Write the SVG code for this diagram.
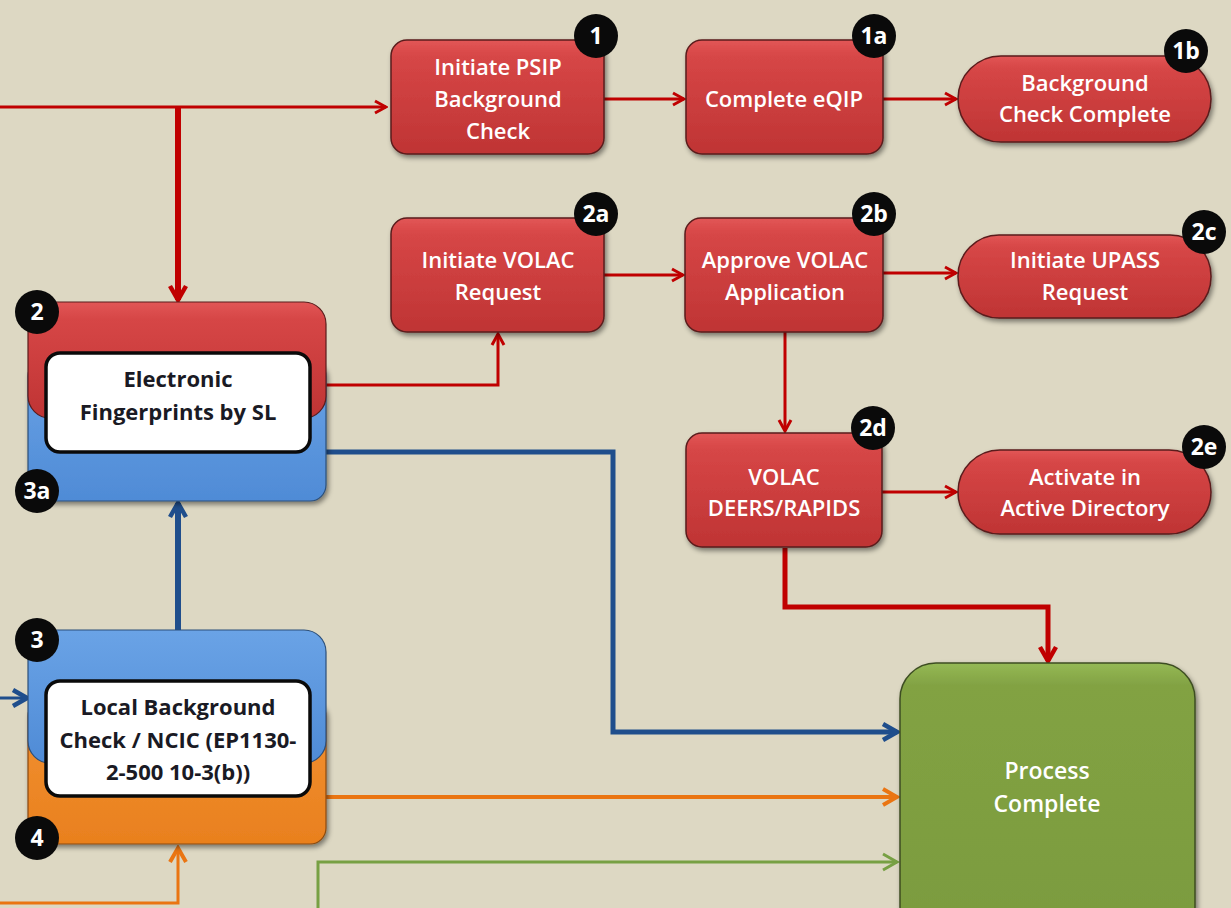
<svg xmlns="http://www.w3.org/2000/svg" width="1231" height="908" viewBox="0 0 1231 908">
<defs>
<style>
.t{font-family:"Open Sans","Liberation Sans",sans-serif;font-size:22px;text-anchor:middle;}
.w{fill:#ffffff;font-weight:600;}
.d{fill:#1a1a24;font-weight:bold;font-size:22px;}
.pc{font-size:23px;font-weight:600;}
.bt{font-family:"Open Sans","Liberation Sans",sans-serif;font-size:23px;font-weight:bold;fill:#ffffff;text-anchor:middle;}
.red{fill:url(#gr);stroke:#5a1c1c;stroke-width:1.5;}
.badge{fill:#0a0a0a;}
.cr{fill:none;stroke:#c00000;}
.cb{fill:none;stroke:#1f4e8c;}
.co{fill:none;stroke:#ea7512;}
.cg{fill:none;stroke:#77a043;}
</style>
<linearGradient id="gr" x1="0" y1="0" x2="0" y2="1">
<stop offset="0" stop-color="#e25656"/><stop offset="0.15" stop-color="#d64646"/><stop offset="1" stop-color="#bf3434"/>
</linearGradient>
<linearGradient id="gb" x1="0" y1="0" x2="0" y2="1">
<stop offset="0" stop-color="#6aa3e6"/><stop offset="1" stop-color="#4f8bd6"/>
</linearGradient>
<linearGradient id="go" x1="0" y1="0" x2="0" y2="1">
<stop offset="0" stop-color="#f29233"/><stop offset="1" stop-color="#e9801e"/>
</linearGradient>
<linearGradient id="gg" x1="0" y1="0" x2="0" y2="1">
<stop offset="0" stop-color="#95b955"/><stop offset="0.08" stop-color="#82a243"/><stop offset="1" stop-color="#7b9b3e"/>
</linearGradient>
<filter id="sh" x="-10%" y="-10%" width="125%" height="130%">
<feDropShadow dx="2" dy="3" stdDeviation="2.5" flood-color="#000" flood-opacity="0.45"/>
</filter>
<marker id="mr" viewBox="0 0 16 16" refX="14" refY="8" markerWidth="16" markerHeight="16" markerUnits="userSpaceOnUse" orient="auto"><path d="M3,2 L14,8 L3,14" fill="none" stroke="#c00000" stroke-width="3"/></marker>
<marker id="mr2" viewBox="0 0 20 20" refX="17" refY="10" markerWidth="20" markerHeight="20" markerUnits="userSpaceOnUse" orient="auto"><path d="M3,2 L17,10 L3,18" fill="none" stroke="#c00000" stroke-width="4.5"/></marker>
<marker id="mb" viewBox="0 0 20 20" refX="17" refY="10" markerWidth="20" markerHeight="20" markerUnits="userSpaceOnUse" orient="auto"><path d="M3,2 L17,10 L3,18" fill="none" stroke="#1f4e8c" stroke-width="4.5"/></marker>
<marker id="mo" viewBox="0 0 20 20" refX="17" refY="10" markerWidth="20" markerHeight="20" markerUnits="userSpaceOnUse" orient="auto"><path d="M3,2 L17,10 L3,18" fill="none" stroke="#ea7512" stroke-width="4"/></marker>
<marker id="mg" viewBox="0 0 20 20" refX="17" refY="10" markerWidth="20" markerHeight="20" markerUnits="userSpaceOnUse" orient="auto"><path d="M3,2 L17,10 L3,18" fill="none" stroke="#77a043" stroke-width="3"/></marker>
</defs>
<rect width="1231" height="908" fill="#ddd8c3"/>

<g id="connectors">
<path class="cr" stroke-width="3" d="M0,107 H386" marker-end="url(#mr)"/>
<path class="cr" stroke-width="6" d="M178,107 V300" marker-end="url(#mr2)"/>
<path class="cr" stroke-width="3" d="M604,99 H684" marker-end="url(#mr)"/>
<path class="cr" stroke-width="3" d="M883,99 H956" marker-end="url(#mr)"/>
<path class="cr" stroke-width="3" d="M604,275 H683" marker-end="url(#mr)"/>
<path class="cr" stroke-width="3" d="M883,273 H956" marker-end="url(#mr)"/>
<path class="cr" stroke-width="3" d="M326,385 H498 V334" marker-end="url(#mr)"/>
<path class="cr" stroke-width="3" d="M785,332 V431" marker-end="url(#mr)"/>
<path class="cr" stroke-width="3" d="M882,492 H956" marker-end="url(#mr)"/>
<path class="cr" stroke-width="5" d="M785,548 V607 H1048 V661" marker-end="url(#mr2)"/>
<path class="cb" stroke-width="5" d="M326,452 H613 V732 H897" marker-end="url(#mb)"/>
<path class="cb" stroke-width="6" d="M178,630 V503" marker-end="url(#mb)"/>
<path class="cb" stroke-width="3" d="M0,698 H27" marker-end="url(#mb)"/>
<path class="co" stroke-width="4" d="M326,797 H897" marker-end="url(#mo)"/>
<path class="co" stroke-width="3" d="M0,903 H178 V848" marker-end="url(#mo)"/>
<path class="cg" stroke-width="3" d="M318,908 V862 H897" marker-end="url(#mg)"/>
</g>

<g id="n1">
<rect class="red" x="391" y="40" width="213" height="114" rx="16" filter="url(#sh)"/>
<text class="t w" x="498" y="75">Initiate PSIP</text>
<text class="t w" x="498" y="107">Background</text>
<text class="t w" x="498" y="139">Check</text>
<circle class="badge" cx="596" cy="36" r="22"/>
<text class="bt" x="596" y="44">1</text>
</g>

<g id="n1a">
<rect class="red" x="686" y="40" width="197" height="114" rx="16" filter="url(#sh)"/>
<text class="t w" x="784" y="107">Complete eQIP</text>
<circle class="badge" cx="874" cy="36" r="22"/>
<text class="bt" x="874" y="44">1a</text>
</g>

<g id="n1b">
<rect class="red" x="958" y="56" width="253" height="86" rx="43" filter="url(#sh)"/>
<text class="t w" x="1085" y="91">Background</text>
<text class="t w" x="1085" y="122">Check Complete</text>
<circle class="badge" cx="1186" cy="51" r="22"/>
<text class="bt" x="1186" y="59">1b</text>
</g>

<g id="n2a">
<rect class="red" x="391" y="218" width="213" height="114" rx="16" filter="url(#sh)"/>
<text class="t w" x="498" y="268">Initiate VOLAC</text>
<text class="t w" x="498" y="300">Request</text>
<circle class="badge" cx="596" cy="214" r="22"/>
<text class="bt" x="596" y="222">2a</text>
</g>

<g id="n2b">
<rect class="red" x="685" y="218" width="198" height="114" rx="16" filter="url(#sh)"/>
<text class="t w" x="785" y="268">Approve VOLAC</text>
<text class="t w" x="785" y="300">Application</text>
<circle class="badge" cx="874" cy="214" r="22"/>
<text class="bt" x="874" y="222">2b</text>
</g>

<g id="n2c">
<rect class="red" x="958" y="235" width="253" height="83" rx="41" filter="url(#sh)"/>
<text class="t w" x="1085" y="268">Initiate UPASS</text>
<text class="t w" x="1085" y="300">Request</text>
<circle class="badge" cx="1204" cy="232" r="22"/>
<text class="bt" x="1204" y="240">2c</text>
</g>

<g id="n2d">
<rect class="red" x="686" y="433" width="196" height="114" rx="16" filter="url(#sh)"/>
<text class="t w" x="784" y="485">VOLAC</text>
<text class="t w" x="784" y="516">DEERS/RAPIDS</text>
<circle class="badge" cx="873" cy="428" r="22"/>
<text class="bt" x="873" y="436">2d</text>
</g>

<g id="n2e">
<rect class="red" x="958" y="450" width="253" height="84" rx="42" filter="url(#sh)"/>
<text class="t w" x="1085" y="485">Activate in</text>
<text class="t w" x="1085" y="516">Active Directory</text>
<circle class="badge" cx="1204" cy="447" r="22"/>
<text class="bt" x="1204" y="455">2e</text>
</g>

<g id="n2">
<rect x="28" y="360" width="298" height="141" rx="16" fill="url(#gb)" stroke="#2b4f7a" stroke-width="1.2" filter="url(#sh)"/>
<rect x="28" y="302" width="298" height="116" rx="22" fill="url(#gr)" stroke="#5a1c1c" stroke-width="1.2"/>
<rect x="46" y="353" width="264" height="99" rx="14" fill="#ffffff" stroke="#0a0a0a" stroke-width="3.5"/>
<text class="t d" x="178" y="387">Electronic</text>
<text class="t d" x="178" y="420">Fingerprints by SL</text>
<circle class="badge" cx="37" cy="312" r="22"/>
<text class="bt" x="37" y="320">2</text>
<circle class="badge" cx="37" cy="491" r="22"/>
<text class="bt" x="37" y="499">3a</text>
</g>

<g id="n3">
<rect x="28" y="700" width="298" height="144" rx="16" fill="url(#go)" stroke="#8a4a10" stroke-width="1.2" filter="url(#sh)"/>
<rect x="28" y="630" width="298" height="133" rx="22" fill="url(#gb)" stroke="#2b4f7a" stroke-width="1.2"/>
<rect x="46" y="681" width="264" height="115" rx="14" fill="#ffffff" stroke="#0a0a0a" stroke-width="3.5"/>
<text class="t d" x="178" y="715">Local Background</text>
<text class="t d" x="178" y="748">Check / NCIC (EP1130-</text>
<text class="t d" x="178" y="780">2-500 10-3(b))</text>
<circle class="badge" cx="37" cy="640" r="22"/>
<text class="bt" x="37" y="648">3</text>
<circle class="badge" cx="37" cy="838" r="22"/>
<text class="bt" x="37" y="846">4</text>
</g>

<g id="pc">
<rect x="900" y="663" width="295" height="280" rx="36" fill="url(#gg)" stroke="#3e4e22" stroke-width="1.5" filter="url(#sh)"/>
<text class="t w pc" x="1047" y="779">Process</text>
<text class="t w pc" x="1047" y="812">Complete</text>
</g>
</svg>
